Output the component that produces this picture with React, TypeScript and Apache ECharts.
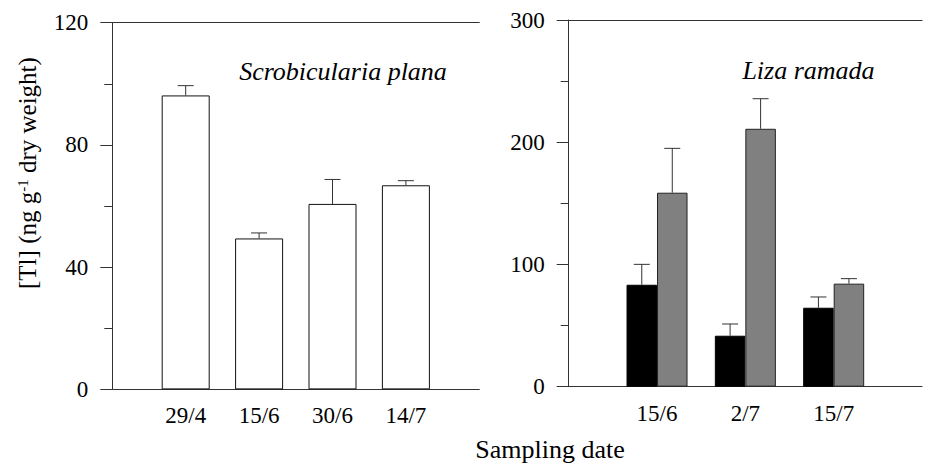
import React, { useEffect, useRef } from "react";
import * as echarts from "echarts";

// ---- Data ----
const leftCategories = ["29/4", "15/6", "30/6", "14/7"];
const leftMeans = [96.2, 49.4, 60.7, 66.8];
const leftErrTops = [99.4, 51.2, 68.7, 68.3];

const rightCategories = ["15/6", "2/7", "15/7"];
const rightBlackMeans = [83.4, 41.7, 64.6];
const rightBlackErrTops = [100.1, 51.3, 73.4];
const rightGrayMeans = [158.7, 211.0, 84.3];
const rightGrayErrTops = [195.0, 235.6, 88.4];

const leftYTicks = [0, 40, 80, 120];
const rightYTicks = [0, 100, 200, 300];

const FONT = "'Liberation Serif', 'Times New Roman', serif";
const LINE = "#333";

export default function App() {
  const ref = useRef<HTMLDivElement>(null);

  useEffect(() => {
    if (!ref.current) return;
    const chart = echarts.init(ref.current, null, { renderer: "svg" });

    const leftPos = leftCategories.map((_, i) => i + 1);
    const rightPos = rightCategories.map((_, i) => i + 1);

    const tickLabel = {
      color: "#000",
      fontFamily: FONT,
      fontSize: 23,
    };

    const errRender = (offset: number, capW: number) => (params: any, api: any) => {
      const x = api.value(0);
      const m = api.value(1);
      const t = api.value(2);
      const p0 = api.coord([x, m]);
      const p1 = api.coord([x, t]);
      const cx = p0[0] + offset;
      return {
        type: "group",
        children: [
          {
            type: "line",
            shape: { x1: cx, y1: p0[1], x2: cx, y2: p1[1] },
            style: { stroke: LINE, lineWidth: 1 },
          },
          {
            type: "line",
            shape: { x1: cx - capW / 2, y1: p1[1], x2: cx + capW / 2, y2: p1[1] },
            style: { stroke: LINE, lineWidth: 1 },
          },
        ],
      };
    };

    const rightBarW = 30.5;

    const titleStyle = (italic: boolean) => ({
      fontFamily: FONT,
      fontSize: 26,
      fontStyle: italic ? "italic" : "normal",
      fontWeight: "normal",
      color: "#000",
    });

    const option: any = {
      animation: false,
      textStyle: { fontFamily: FONT },
      title: [
        { text: "Scrobicularia plana", left: 343, top: 58, padding: 0, textAlign: "center", textStyle: titleStyle(true) },
        { text: "Liza ramada", left: 808.5, top: 57, padding: 0, textAlign: "center", textStyle: titleStyle(true) },
        { text: "Sampling date", left: 550, top: 436, padding: 0, textAlign: "center", textStyle: titleStyle(false) },
      ],
      grid: [
        { left: 112.3, top: 22.7, width: 367, height: 366.7, containLabel: false },
        { left: 568.7, top: 20, width: 366.8, height: 366.7, containLabel: false },
      ],
      xAxis: [
        {
          type: "value",
          gridIndex: 0,
          min: 0,
          max: 5,
          interval: 1,
          axisLine: { show: true, onZero: false, lineStyle: { color: LINE, width: 1 } },
          axisTick: { show: false },
          splitLine: { show: false },
          axisLabel: {
            ...tickLabel,
            margin: 15,
            formatter: (v: number) => (v >= 1 && v <= leftCategories.length ? leftCategories[v - 1] : ""),
          },
        },
        {
          type: "value",
          gridIndex: 0,
          position: "top",
          min: 0,
          max: 5,
          axisLine: { show: true, onZero: false, lineStyle: { color: LINE, width: 1 } },
          axisTick: { show: false },
          axisLabel: { show: false },
          splitLine: { show: false },
        },
        {
          type: "value",
          gridIndex: 1,
          min: 0,
          max: 4,
          interval: 1,
          axisLine: { show: true, onZero: false, lineStyle: { color: LINE, width: 1 } },
          axisTick: { show: false },
          splitLine: { show: false },
          axisLabel: {
            ...tickLabel,
            margin: 15,
            formatter: (v: number) => (v >= 1 && v <= rightCategories.length ? rightCategories[v - 1] : ""),
          },
        },
        {
          type: "value",
          gridIndex: 1,
          position: "top",
          min: 0,
          max: 4,
          axisLine: { show: true, onZero: false, lineStyle: { color: LINE, width: 1 } },
          axisTick: { show: false },
          axisLabel: { show: false },
          splitLine: { show: false },
        },
      ],
      yAxis: [
        {
          type: "value",
          gridIndex: 0,
          min: leftYTicks[0],
          max: leftYTicks[leftYTicks.length - 1],
          interval: leftYTicks[1] - leftYTicks[0],
          name: "{p| }{a|[Tl] (ng g}{s|-1}{a| dry weight)}",
          nameLocation: "middle",
          nameRotate: 90,
          nameGap: 72,
          nameTextStyle: {
            fontFamily: FONT,
            fontSize: 25,
            color: "#000",
            rich: {
              p: { width: 66, fontFamily: FONT, fontSize: 25 },
              a: { fontFamily: FONT, fontSize: 25, color: "#000" },
              s: { fontFamily: FONT, fontSize: 15, color: "#000", verticalAlign: "top" },
            },
          },
          axisLine: { show: true, lineStyle: { color: LINE, width: 1 } },
          axisTick: { show: true, length: 12, lineStyle: { color: LINE, width: 1 } },
          minorTick: { show: true, splitNumber: 2, length: 8, lineStyle: { color: LINE, width: 1 } },
          splitLine: { show: false },
          axisLabel: { ...tickLabel, margin: 24 },
        },
        {
          type: "value",
          gridIndex: 0,
          position: "right",
          min: leftYTicks[0],
          max: leftYTicks[leftYTicks.length - 1],
          axisLine: { show: true, lineStyle: { color: LINE, width: 1 } },
          axisTick: { show: false },
          axisLabel: { show: false },
          splitLine: { show: false },
        },
        {
          type: "value",
          gridIndex: 1,
          min: rightYTicks[0],
          max: rightYTicks[rightYTicks.length - 1],
          interval: rightYTicks[1] - rightYTicks[0],
          axisLine: { show: true, lineStyle: { color: LINE, width: 1 } },
          axisTick: { show: true, length: 12, lineStyle: { color: LINE, width: 1 } },
          minorTick: { show: true, splitNumber: 2, length: 8, lineStyle: { color: LINE, width: 1 } },
          splitLine: { show: false },
          axisLabel: { ...tickLabel, margin: 24 },
        },
      ],
      series: [
        {
          type: "bar",
          xAxisIndex: 0,
          yAxisIndex: 0,
          barWidth: 48,
          data: leftPos.map((x, i) => [x, leftMeans[i]]),
          itemStyle: { color: "#fff", borderColor: "#111", borderWidth: 1 },
          silent: true,
        },
        {
          type: "custom",
          xAxisIndex: 0,
          yAxisIndex: 0,
          renderItem: errRender(0, 16),
          data: leftPos.map((x, i) => [x, leftMeans[i], leftErrTops[i]]),
          silent: true,
          z: 3,
        },
        {
          type: "bar",
          xAxisIndex: 2,
          yAxisIndex: 2,
          barWidth: rightBarW,
          barGap: "0%",
          data: rightPos.map((x, i) => [x, rightBlackMeans[i]]),
          itemStyle: { color: "#000", borderColor: "#000", borderWidth: 1 },
          silent: true,
        },
        {
          type: "bar",
          xAxisIndex: 2,
          yAxisIndex: 2,
          barWidth: rightBarW,
          barGap: "0%",
          data: rightPos.map((x, i) => [x, rightGrayMeans[i]]),
          itemStyle: { color: "#808080", borderColor: "#222", borderWidth: 1 },
          silent: true,
        },
        {
          type: "custom",
          xAxisIndex: 2,
          yAxisIndex: 2,
          renderItem: errRender(-rightBarW / 2, 16),
          data: rightPos.map((x, i) => [x, rightBlackMeans[i], rightBlackErrTops[i]]),
          silent: true,
          z: 3,
        },
        {
          type: "custom",
          xAxisIndex: 2,
          yAxisIndex: 2,
          renderItem: errRender(rightBarW / 2, 16),
          data: rightPos.map((x, i) => [x, rightGrayMeans[i], rightGrayErrTops[i]]),
          silent: true,
          z: 3,
        },
      ],
    };

    chart.setOption(option);
    return () => chart.dispose();
  }, []);

  return (
    <div
      ref={ref}
      style={{ position: "fixed", left: 0, top: 0, width: 925, height: 464, overflow: "hidden", background: "#fff" }}
    />
  );
}
